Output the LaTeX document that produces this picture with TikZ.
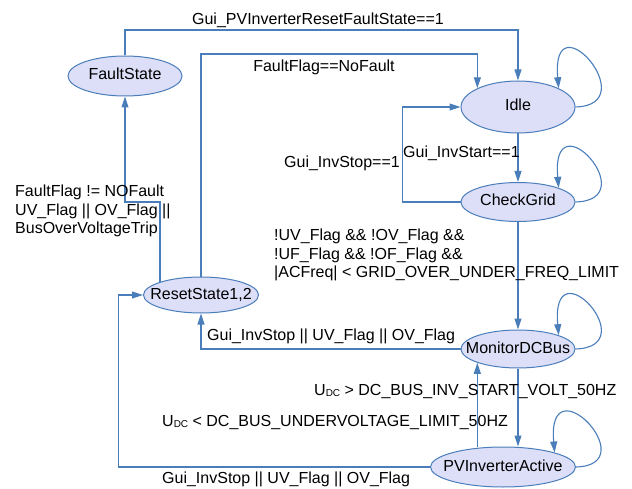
\documentclass[tikz,border=0pt]{standalone}
\usepackage{fontspec}
\setmainfont{Liberation Sans}
\usetikzlibrary{arrows.meta,shapes.geometric}
\definecolor{edgeblue}{RGB}{74,126,187}
\definecolor{statefill}{RGB}{221,222,248}
% state names are kept out of the ellipse size computation
\newcommand\statetext[1]{\makebox[0pt][c]{#1}}
% small "DC" index after U
\newcommand\dcsub{\raisebox{-1pt}{\fontsize{10}{10}\selectfont DC}}

\begin{document}
\begin{tikzpicture}[x=1pt,y=-1pt,
  state/.style={ellipse, draw=edgeblue, fill=statefill, line width=1pt,
    inner sep=0pt, text height=11.5pt, text depth=3.5pt,
    font=\fontsize{16}{18}\selectfont},
  trans/.style={draw=edgeblue, line width=1.1pt,
    -{Triangle[length=11pt,width=7pt]}},
  lbl/.style={font=\fontsize{16}{18.5}\selectfont, inner sep=0pt, align=left},
]
\fill[white] (0,0) rectangle (632,489);
\useasboundingbox (0,0) rectangle (632,489);

% states
\node[state, minimum width=114pt, minimum height=40pt] (FaultState) at (125,76) {\statetext{FaultState}};
\node[state, minimum width=114pt, minimum height=52pt] (Idle) at (518,107) {\statetext{Idle}};
\node[state, minimum width=114pt, minimum height=39pt] (CheckGrid) at (518,202) {\statetext{CheckGrid}};
\node[state, minimum width=115pt, minimum height=36pt] (ResetState) at (201,295) {\statetext{ResetState1,2}};
\node[state, minimum width=114pt, minimum height=38pt] (Monitor) at (518,349) {\statetext{MonitorDCBus}};
\node[state, minimum width=145pt, minimum height=40pt] (Active) at (503,467) {\statetext{PVInverterActive}};

% routing levels
\coordinate (topY) at (0,30);
\coordinate (midY) at (0,54);
\coordinate (ffY) at (0,202);

% transitions
\draw[trans] (FaultState.north) -- (FaultState.north |- topY) -| (Idle.north);
\draw[trans] (ResetState.north) -- (ResetState.north |- midY) -| (Idle.north west);
\draw[trans] (Idle.south) -- (CheckGrid.north);
\draw[trans] (CheckGrid.west) -- ++(-58,0) |- (Idle.west);
\draw[trans] (CheckGrid.south) -- (Monitor.north);
\draw[trans] (Monitor.west) -| (ResetState.south);
\draw[trans] (Monitor.south) -- (Monitor.south |- Active.north);
\draw[trans] (Monitor.south west |- Active.north) -- (Monitor.south west);
\draw[trans] (Active.west) -- ++(-311.5,0) |- (ResetState.west);
\draw[trans] (ResetState.north west) -- (ResetState.north west |- ffY) -| (FaultState.south);

% self loops
\foreach \s in {Idle,CheckGrid,Monitor,Active}
  \draw[trans] (\s.east) .. controls +(70,-2) and +(-8,-92) .. (\s.north east);

% guards
\node[lbl] (gReset) at (318,20) {Gui\_PVInverterResetFaultState==1};
\node[lbl] (gNoFault) at (324,67) {FaultFlag==NoFault};
\node[lbl, anchor=east] (gStop) at (400,163) {Gui\_InvStop==1};
\node[lbl, anchor=west] (gStart) at (403,153) {Gui\_InvStart==1};
\node[lbl, anchor=west] (gFault) at (15,211) {FaultFlag != NOFault\\UV\_Flag || OV\_Flag ||\\BusOverVoltageTrip};
\node[lbl, anchor=west] (gGrid) at (274,255) {!UV\_Flag \&\& !OV\_Flag \&\&\\!UF\_Flag \&\& !OF\_Flag \&\&\\|ACFreq| < GRID\_OVER\_UNDER\_FREQ\_LIMIT};
\node[lbl, anchor=west] (gMonStop) at (207,336) {Gui\_InvStop || UV\_Flag || OV\_Flag};
\node[lbl, anchor=west] (gUp) at (314,392) {U\dcsub{} > DC\_BUS\_INV\_START\_VOLT\_50HZ};
\node[lbl, anchor=west] (gDown) at (162,423) {U\dcsub{} < DC\_BUS\_UNDERVOLTAGE\_LIMIT\_50HZ};
\node[lbl, anchor=west] (gActStop) at (162,479) {Gui\_InvStop || UV\_Flag || OV\_Flag};
\end{tikzpicture}
\end{document}
